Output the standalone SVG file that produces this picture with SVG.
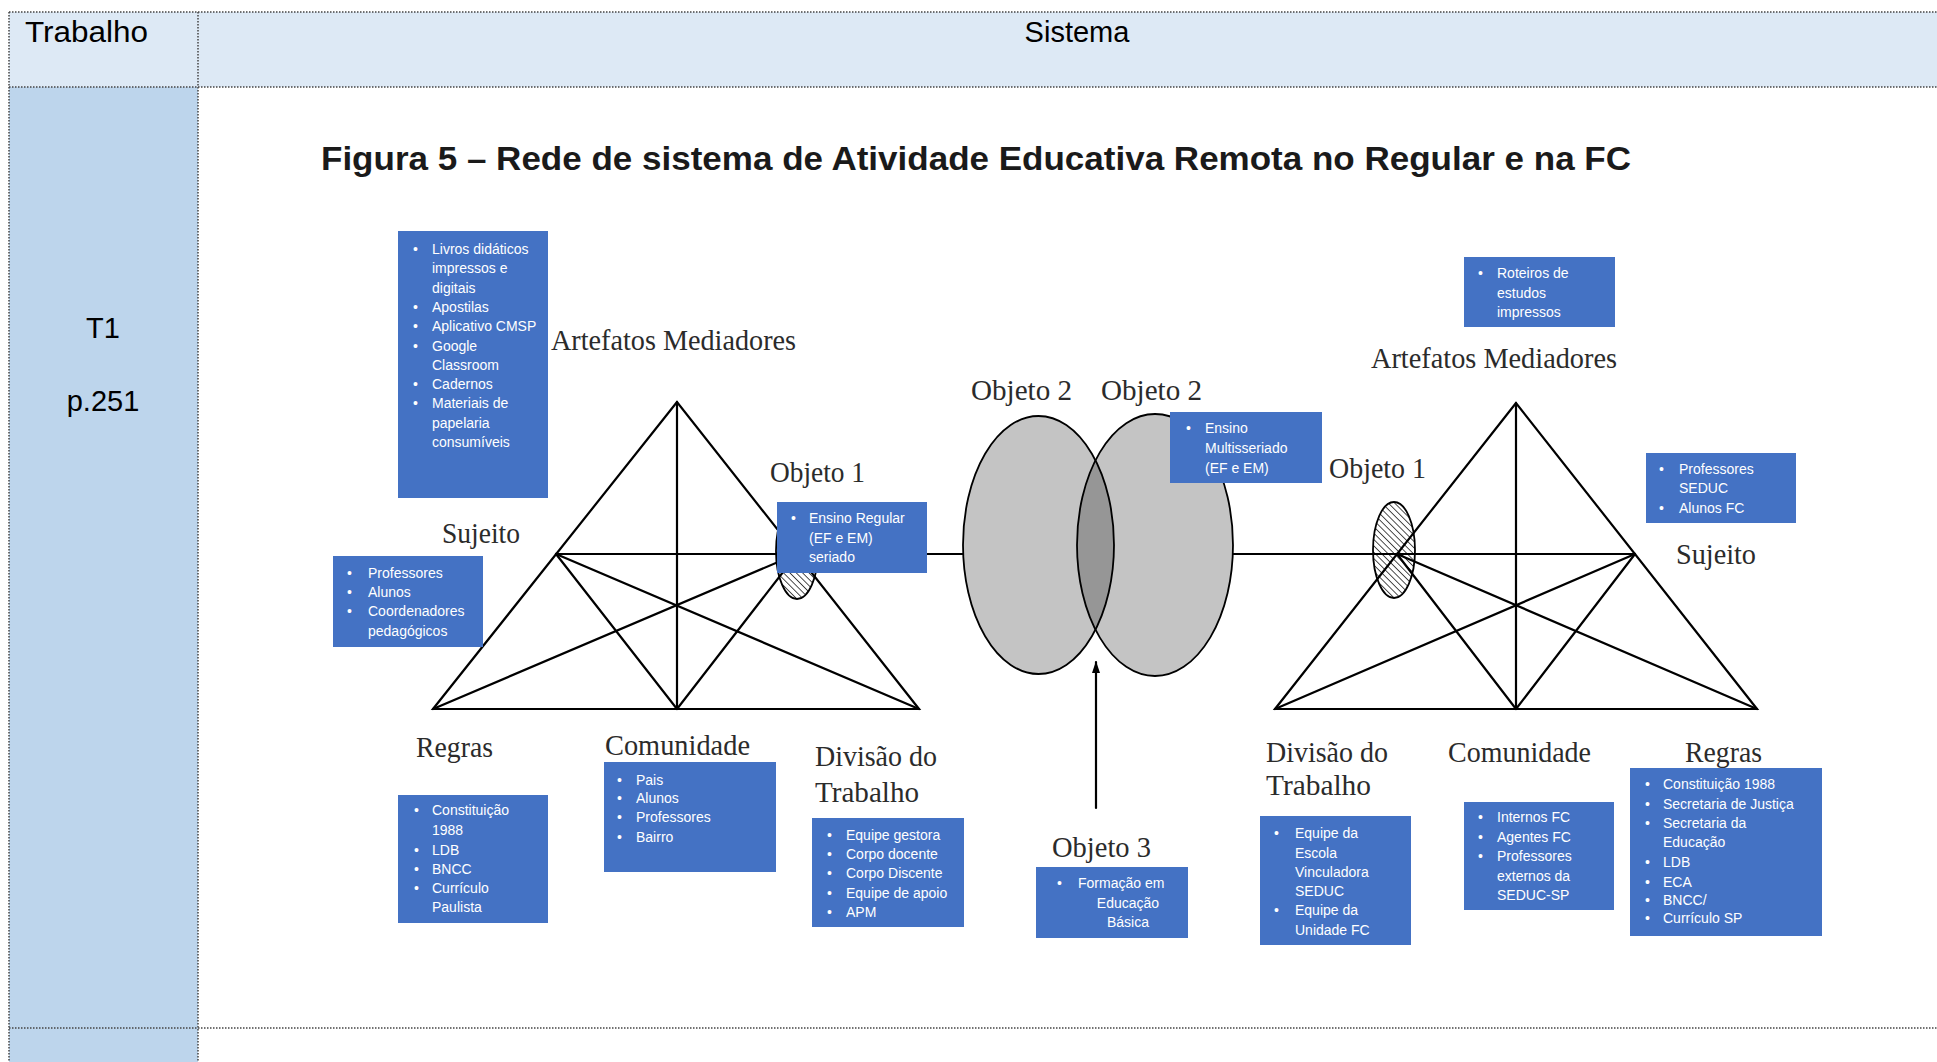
<svg xmlns="http://www.w3.org/2000/svg" width="1937" height="1062" viewBox="0 0 1937 1062">
<style>
.tb{stroke:#444;stroke-width:1.5;stroke-dasharray:1.5 1.5;fill:none}
.hd{font-family:"Liberation Sans",Arial,sans-serif;font-size:29px;fill:#000}
.ttl{font-family:"Liberation Sans",Arial,sans-serif;font-size:33px;font-weight:bold;fill:#1a1a1a}
.lb{font-family:"Liberation Serif","Times New Roman",serif;font-size:30px;fill:#2b2b2b}
.bx{fill:#4472C4}
.bt{font-family:"Liberation Sans",Arial,sans-serif;font-size:14px;fill:#fff}
.ln{stroke:#000;stroke-width:2.2;fill:none;stroke-linecap:round}
.el{stroke:#000;stroke-width:1.8;fill:none}
.ht{stroke:#000;stroke-width:1.8;fill:url(#hatch)}
</style>
<defs>
<pattern id="hatch" patternUnits="userSpaceOnUse" width="4.5" height="4.5" patternTransform="rotate(-45)">
<rect width="4.5" height="4.5" fill="#fff"/>
<line x1="0" y1="0" x2="0" y2="4.5" stroke="#222" stroke-width="1.6"/>
</pattern>
<clipPath id="clipL"><ellipse cx="1038.5" cy="545" rx="75.5" ry="129"/></clipPath>
<marker id="arr" viewBox="0 0 12 8" refX="11" refY="4" markerWidth="12" markerHeight="8" markerUnits="userSpaceOnUse" orient="auto">
<path d="M0,0 L12,4 L0,8 z" fill="#000"/>
</marker>
</defs>

<!-- table -->
<g id="table">
<rect x="9" y="12" width="1928" height="75" fill="#dde9f5"/>
<rect x="9" y="87" width="189" height="975" fill="#bdd5ec"/>
<line class="tb" x1="9" y1="12" x2="1937" y2="12"/>
<line class="tb" x1="9" y1="87" x2="1937" y2="87"/>
<line class="tb" x1="9" y1="1028" x2="1937" y2="1028"/>
<line class="tb" x1="9" y1="12" x2="9" y2="1062"/>
<line class="tb" x1="198" y1="12" x2="198" y2="1062"/>
<text class="hd" x="25" y="42" textLength="123" lengthAdjust="spacingAndGlyphs">Trabalho</text>
<text class="hd" x="1077" y="42" text-anchor="middle">Sistema</text>
<text class="hd" x="103" y="338" text-anchor="middle">T1</text>
<text class="hd" x="103" y="411" text-anchor="middle">p.251</text>
</g>

<text class="ttl" x="321" y="170" textLength="1310" lengthAdjust="spacingAndGlyphs">Figura 5 – Rede de sistema de Atividade Educativa Remota no Regular e na FC</text>

<!-- hatched object ellipses -->
<g id="objeto1-esq-marca"><ellipse class="ht" cx="797" cy="551" rx="21" ry="48"/></g>
<g id="objeto1-dir-marca"><ellipse class="ht" cx="1394" cy="550" rx="21" ry="48"/></g>

<!-- objeto 2 ellipses -->
<g id="objeto2-elipses">
<ellipse cx="1038.5" cy="545" rx="75.5" ry="129" fill="#c4c4c4"/>
<ellipse cx="1155" cy="545" rx="78" ry="131" fill="#c4c4c4"/>
<ellipse cx="1155" cy="545" rx="78" ry="131" fill="#969696" clip-path="url(#clipL)"/>
<ellipse class="el" cx="1038.5" cy="545" rx="75.5" ry="129"/>
<ellipse class="el" cx="1155" cy="545" rx="78" ry="131"/>
</g>

<!-- connectors -->
<g id="connectors">
<!-- left triangle -->
<path class="ln" d="M677,402 L433,709 L919,709 Z"/>
<line class="ln" x1="677" y1="402" x2="677" y2="709"/>
<line class="ln" x1="556" y1="554" x2="797" y2="554"/>
<line class="ln" x1="556" y1="554" x2="919" y2="709"/>
<line class="ln" x1="797" y1="554" x2="433" y2="709"/>
<line class="ln" x1="556" y1="554" x2="677" y2="709"/>
<line class="ln" x1="797" y1="554" x2="677" y2="709"/>
<!-- right triangle -->
<path class="ln" d="M1516,403 L1275,709 L1757,709 Z"/>
<line class="ln" x1="1516" y1="403" x2="1516" y2="709"/>
<line class="ln" x1="1397" y1="554" x2="1635" y2="554"/>
<line class="ln" x1="1397" y1="554" x2="1757" y2="709"/>
<line class="ln" x1="1635" y1="554" x2="1275" y2="709"/>
<line class="ln" x1="1397" y1="554" x2="1516" y2="709"/>
<line class="ln" x1="1635" y1="554" x2="1516" y2="709"/>
<!-- links to objeto 2 -->
<line class="ln" x1="797" y1="554" x2="963" y2="554"/>
<line class="ln" x1="1233" y1="554" x2="1397" y2="554"/>
<!-- objeto 3 arrow -->
<line class="ln" x1="1096" y1="808" x2="1096" y2="662" marker-end="url(#arr)"/>
</g>

<!-- labels -->
<g id="labels">
<text class="lb" x="551" y="350" textLength="245" lengthAdjust="spacingAndGlyphs">Artefatos Mediadores</text>
<text class="lb" x="442" y="543" textLength="78" lengthAdjust="spacingAndGlyphs">Sujeito</text>
<text class="lb" x="770" y="482" textLength="95" lengthAdjust="spacingAndGlyphs">Objeto 1</text>
<text class="lb" x="971" y="400" textLength="101" lengthAdjust="spacingAndGlyphs">Objeto 2</text>
<text class="lb" x="1101" y="400" textLength="101" lengthAdjust="spacingAndGlyphs">Objeto 2</text>
<text class="lb" x="1329" y="478" textLength="97" lengthAdjust="spacingAndGlyphs">Objeto 1</text>
<text class="lb" x="1371" y="368" textLength="246" lengthAdjust="spacingAndGlyphs">Artefatos Mediadores</text>
<text class="lb" x="1676" y="564" textLength="80" lengthAdjust="spacingAndGlyphs">Sujeito</text>
<text class="lb" x="416" y="757" textLength="77" lengthAdjust="spacingAndGlyphs">Regras</text>
<text class="lb" x="605" y="755" textLength="145" lengthAdjust="spacingAndGlyphs">Comunidade</text>
<text class="lb" x="815" y="766" textLength="122" lengthAdjust="spacingAndGlyphs">Divisão do</text>
<text class="lb" x="815" y="802" textLength="104" lengthAdjust="spacingAndGlyphs">Trabalho</text>
<text class="lb" x="1052" y="857" textLength="99" lengthAdjust="spacingAndGlyphs">Objeto 3</text>
<text class="lb" x="1266" y="762" textLength="122" lengthAdjust="spacingAndGlyphs">Divisão do</text>
<text class="lb" x="1266" y="795" textLength="105" lengthAdjust="spacingAndGlyphs">Trabalho</text>
<text class="lb" x="1448" y="762" textLength="143" lengthAdjust="spacingAndGlyphs">Comunidade</text>
<text class="lb" x="1685" y="762" textLength="77" lengthAdjust="spacingAndGlyphs">Regras</text>
</g>

<!-- boxes -->
<g id="artefatos-esq">
<rect class="bx" x="398" y="231" width="150" height="267"/>
<g class="bt">
<text x="413" y="254">•</text><text x="432" y="254">Livros didáticos</text>
<text x="432" y="273">impressos e</text>
<text x="432" y="293">digitais</text>
<text x="413" y="312">•</text><text x="432" y="312">Apostilas</text>
<text x="413" y="331">•</text><text x="432" y="331">Aplicativo CMSP</text>
<text x="413" y="351">•</text><text x="432" y="351">Google</text>
<text x="432" y="370">Classroom</text>
<text x="413" y="389">•</text><text x="432" y="389">Cadernos</text>
<text x="413" y="408">•</text><text x="432" y="408">Materiais de</text>
<text x="432" y="428">papelaria</text>
<text x="432" y="447">consumíveis</text>
</g>
</g>

<g id="sujeito-esq">
<rect class="bx" x="333" y="556" width="150" height="91"/>
<g class="bt">
<text x="347" y="578">•</text><text x="368" y="578">Professores</text>
<text x="347" y="597">•</text><text x="368" y="597">Alunos</text>
<text x="347" y="616">•</text><text x="368" y="616">Coordenadores</text>
<text x="368" y="636">pedagógicos</text>
</g>
</g>

<g id="objeto1-esq">
<rect class="bx" x="777" y="502" width="150" height="71"/>
<g class="bt">
<text x="791" y="523">•</text><text x="809" y="523">Ensino Regular</text>
<text x="809" y="543">(EF e EM)</text>
<text x="809" y="562">seriado</text>
</g>
</g>

<g id="regras-esq">
<rect class="bx" x="398" y="795" width="150" height="128"/>
<g class="bt">
<text x="414" y="815">•</text><text x="432" y="815">Constituição</text>
<text x="432" y="835">1988</text>
<text x="414" y="855">•</text><text x="432" y="855">LDB</text>
<text x="414" y="874">•</text><text x="432" y="874">BNCC</text>
<text x="414" y="893">•</text><text x="432" y="893">Currículo</text>
<text x="432" y="912">Paulista</text>
</g>
</g>

<g id="comunidade-esq">
<rect class="bx" x="604" y="762" width="172" height="110"/>
<g class="bt">
<text x="617" y="785">•</text><text x="636" y="785">Pais</text>
<text x="617" y="803">•</text><text x="636" y="803">Alunos</text>
<text x="617" y="822">•</text><text x="636" y="822">Professores</text>
<text x="617" y="842">•</text><text x="636" y="842">Bairro</text>
</g>
</g>

<g id="divisao-esq">
<rect class="bx" x="812" y="818" width="152" height="109"/>
<g class="bt">
<text x="827" y="840">•</text><text x="846" y="840">Equipe gestora</text>
<text x="827" y="859">•</text><text x="846" y="859">Corpo docente</text>
<text x="827" y="878">•</text><text x="846" y="878">Corpo Discente</text>
<text x="827" y="898">•</text><text x="846" y="898">Equipe de apoio</text>
<text x="827" y="917">•</text><text x="846" y="917">APM</text>
</g>
</g>

<g id="objeto2">
<rect class="bx" x="1170" y="412" width="152" height="71"/>
<g class="bt">
<text x="1186" y="433">•</text><text x="1205" y="433">Ensino</text>
<text x="1205" y="453">Multisseriado</text>
<text x="1205" y="473">(EF e EM)</text>
</g>
</g>

<g id="objeto3">
<rect class="bx" x="1036" y="867" width="152" height="71"/>
<g class="bt">
<text x="1057" y="888">•</text><text x="1078" y="888">Formação em</text>
<text x="1128" y="908" text-anchor="middle">Educação</text>
<text x="1128" y="927" text-anchor="middle">Básica</text>
</g>
</g>

<g id="divisao-dir">
<rect class="bx" x="1260" y="816" width="151" height="129"/>
<g class="bt">
<text x="1274" y="838">•</text><text x="1295" y="838">Equipe da</text>
<text x="1295" y="858">Escola</text>
<text x="1295" y="877">Vinculadora</text>
<text x="1295" y="896">SEDUC</text>
<text x="1274" y="915">•</text><text x="1295" y="915">Equipe da</text>
<text x="1295" y="935">Unidade FC</text>
</g>
</g>

<g id="comunidade-dir">
<rect class="bx" x="1464" y="802" width="150" height="108"/>
<g class="bt">
<text x="1478" y="822">•</text><text x="1497" y="822">Internos FC</text>
<text x="1478" y="842">•</text><text x="1497" y="842">Agentes FC</text>
<text x="1478" y="861">•</text><text x="1497" y="861">Professores</text>
<text x="1497" y="881">externos da</text>
<text x="1497" y="900">SEDUC-SP</text>
</g>
</g>

<g id="regras-dir">
<rect class="bx" x="1630" y="768" width="192" height="168"/>
<g class="bt">
<text x="1645" y="789">•</text><text x="1663" y="789">Constituição 1988</text>
<text x="1645" y="809">•</text><text x="1663" y="809">Secretaria de Justiça</text>
<text x="1645" y="828">•</text><text x="1663" y="828">Secretaria da</text>
<text x="1663" y="847">Educação</text>
<text x="1645" y="867">•</text><text x="1663" y="867">LDB</text>
<text x="1645" y="887">•</text><text x="1663" y="887">ECA</text>
<text x="1645" y="905">•</text><text x="1663" y="905">BNCC/</text>
<text x="1645" y="923">•</text><text x="1663" y="923">Currículo SP</text>
</g>
</g>

<g id="artefatos-dir">
<rect class="bx" x="1464" y="257" width="151" height="70"/>
<g class="bt">
<text x="1478" y="278">•</text><text x="1497" y="278">Roteiros de</text>
<text x="1497" y="298">estudos</text>
<text x="1497" y="317">impressos</text>
</g>
</g>

<g id="sujeito-dir">
<rect class="bx" x="1646" y="453" width="150" height="70"/>
<g class="bt">
<text x="1659" y="474">•</text><text x="1679" y="474">Professores</text>
<text x="1679" y="493">SEDUC</text>
<text x="1659" y="513">•</text><text x="1679" y="513">Alunos FC</text>
</g>
</g>
</svg>
